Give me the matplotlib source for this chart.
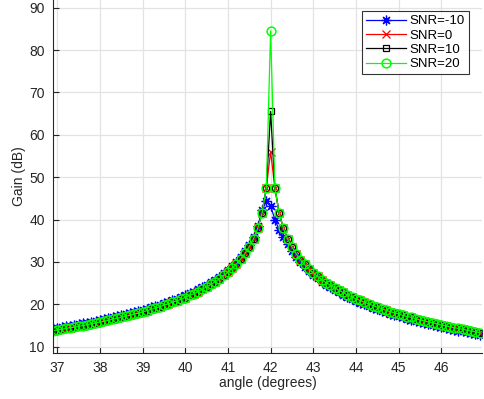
import numpy as np
import matplotlib
matplotlib.use("Agg")
import matplotlib.pyplot as plt

# angle grid, 0.1 degree steps
angle = np.round(np.arange(36.9, 46.95, 0.1), 1)

# gain (dB) left of the peak, 36.9 .. 41.9  (SNR=0/10/20 overlap)
gain_left = [13.8, 13.9, 14.1, 14.3, 14.5, 14.6, 14.8, 15.0, 15.2, 15.4,
             15.6, 15.8, 16.0, 16.2, 16.5, 16.7, 16.9, 17.2, 17.4, 17.7,
             17.9, 18.2, 18.5, 18.8, 19.1, 19.4, 19.8, 20.1, 20.5, 20.8,
             21.2, 21.6, 22.1, 22.5, 23.0, 23.6, 24.1, 24.7, 25.3, 26.0,
             26.8, 27.6, 28.5, 29.5, 30.7, 32.0, 33.6, 35.5, 38.0, 41.5,
             47.5]
# gain right of the peak, 42.1 .. 46.9
gain_right = [47.5, 41.5, 37.9, 35.4, 33.5, 31.9, 30.5, 29.4, 28.3, 27.4,
              26.6, 25.8, 25.1, 24.5, 23.9, 23.3, 22.8, 22.2, 21.8, 21.3,
              20.9, 20.5, 20.1, 19.7, 19.3, 19.0, 18.6, 18.3, 18.0, 17.7,
              17.4, 17.1, 16.9, 16.6, 16.3, 16.1, 15.8, 15.6, 15.4, 15.1,
              14.9, 14.7, 14.5, 14.3, 14.1, 13.9, 13.7, 13.5, 13.3]
# peak value at 42 degrees for SNR=0, 10, 20
peak_snr0 = 56.0
peak_snr10 = 65.5
peak_snr20 = 84.5

# SNR=-10 curve, 36.9 .. 46.9
gain_snr_m10 = [14.3, 14.4, 14.6, 14.8, 15.0, 15.1, 15.3, 15.5, 15.7, 15.9,
                16.1, 16.3, 16.5, 16.7, 17.0, 17.2, 17.4, 17.7, 17.9, 18.2,
                18.4, 18.7, 19.0, 19.3, 19.6, 19.9, 20.3, 20.6, 21.0, 21.3,
                21.7, 22.1, 22.6, 23.0, 23.5, 24.1, 24.6, 25.2, 25.8, 26.5,
                27.3, 28.1, 29.0, 30.0, 31.2, 32.5, 34.1, 36.0, 38.5, 42.2,
                44.3, 43.2,
                40.0, 37.6, 35.8, 34.2, 32.6, 31.2, 30.0, 28.9, 27.8, 26.9,
                26.1, 25.3, 24.6, 24.0, 23.4, 22.8, 22.3, 21.7, 21.3, 20.8,
                20.4, 20.0, 19.6, 19.2, 18.8, 18.5, 18.1, 17.8, 17.5, 17.2,
                16.9, 16.6, 16.4, 16.1, 15.8, 15.6, 15.3, 15.1, 14.9, 14.6,
                14.4, 14.2, 14.0, 13.8, 13.6, 13.4, 13.2, 13.0, 12.8]

labels = ["SNR=-10", "SNR=0", "SNR=10", "SNR=20"]

gain_snr0 = gain_left + [peak_snr0] + gain_right
gain_snr10 = gain_left + [peak_snr10] + gain_right
gain_snr20 = gain_left + [peak_snr20] + gain_right

plt.rcParams['font.family'] = ['Liberation Sans', 'DejaVu Sans']
axcol = '#262626'
star = (8, 2, 0)  # matlab style asterisk

fig = plt.figure(figsize=(4.84, 3.99), dpi=100)
ax = fig.add_axes([0.1095, 0.116, 0.886, 0.884])

ax.plot(angle, gain_snr_m10, '-', marker=star, color=(0, 0, 1), lw=0.9, ms=7, mew=0.9, label=labels[0])
ax.plot(angle, gain_snr0, '-x', color=(1, 0, 0), lw=0.9, ms=5.5, mew=0.9, label=labels[1])
ax.plot(angle, gain_snr10, '-s', color='k', lw=0.9, ms=4.5, mew=0.9, mfc='none', label=labels[2])
ax.plot(angle, gain_snr20, '-o', color=(0, 1, 0), lw=0.9, ms=6.3, mew=1.1, mfc='none', label=labels[3])

ax.set_xlim(36.9, 46.95)
ax.set_ylim(8.58, 91.8)
ax.set_xticks(range(37, 47))
ax.set_yticks(range(10, 91, 10))

ax.grid(True, color='#e3e3e3', lw=0.9)
ax.set_axisbelow(True)
for s in ['top', 'right']:
    ax.spines[s].set_visible(False)
for s in ['left', 'bottom']:
    ax.spines[s].set_color(axcol)
    ax.spines[s].set_linewidth(0.8)
ax.tick_params(direction='in', length=4, width=0.8, colors=axcol, labelsize=10, pad=6)

ax.set_xlabel('angle (degrees)', fontsize=10, color=axcol, labelpad=1)
ax.set_ylabel('Gain (dB)', fontsize=10, color=axcol, labelpad=2)

leg = ax.legend(loc='upper right', bbox_to_anchor=(0.97, 0.968), fontsize=9.5,
                frameon=True, fancybox=False, edgecolor='k', handlelength=3.0,
                handletextpad=0.3, borderpad=0.3, labelspacing=0.15, borderaxespad=0)
leg.get_frame().set_linewidth(0.8)

fig.savefig('out.png', dpi=100)
